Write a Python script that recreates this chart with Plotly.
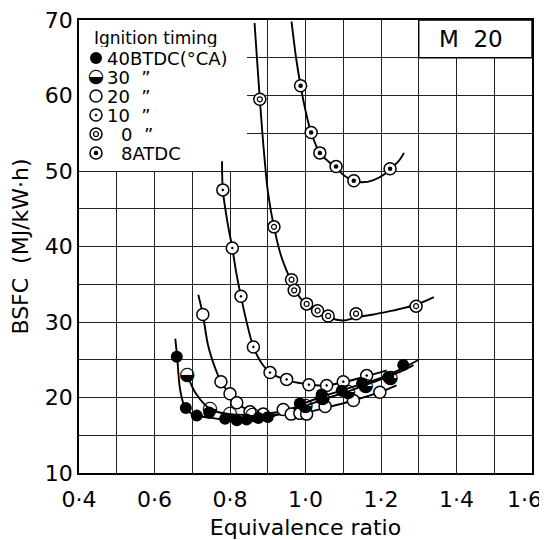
import plotly.graph_objects as go

# ---- data ----
# x: equivalence ratio, y: BSFC (MJ/kW.h)

# 40 BTDC (filled circle)
bt40_x = [0.659, 0.683, 0.712, 0.745, 0.787, 0.818, 0.844, 0.875, 0.900, 0.985, 1.043, 1.096, 1.150, 1.219, 1.259]
bt40_y = [25.4, 18.6, 17.6, 18.0, 17.2, 17.0, 17.1, 17.3, 17.4, 19.2, 20.4, 20.9, 21.9, 22.7, 24.3]
bt40_cx = [0.655, 0.660, 0.668, 0.680, 0.700, 0.750, 0.800, 0.850, 0.900, 0.950, 1.000, 1.050, 1.100, 1.150, 1.200, 1.250, 1.300]
bt40_cy = [27.8, 25.4, 21.0, 18.8, 17.8, 17.3, 17.0, 17.0, 17.3, 18.2, 19.3, 20.2, 21.0, 21.8, 22.6, 23.7, 25.0]

# 30 BTDC (half filled)
bt30_x = [0.687, 0.747, 0.800, 0.860, 1.000, 1.045, 1.113, 1.160, 1.225]
bt30_y = [23.0, 18.4, 17.8, 17.6, 18.9, 19.9, 20.7, 21.5, 22.6]
bt30_cx = [0.687, 0.710, 0.750, 0.800, 0.850, 0.900, 0.950, 1.000, 1.050, 1.100, 1.150, 1.200, 1.250, 1.286]
bt30_cy = [23.0, 20.5, 18.4, 17.8, 17.7, 17.9, 18.3, 18.9, 19.8, 20.6, 21.5, 22.4, 23.4, 24.3]

# 20 BTDC (open circle)
bt20_x = [0.728, 0.776, 0.800, 0.818, 0.853, 0.888, 0.941, 0.962, 0.985, 1.003, 1.052, 1.127, 1.197]
bt20_y = [31.0, 22.1, 20.5, 19.3, 18.1, 17.8, 18.4, 17.8, 17.9, 17.8, 18.8, 19.6, 20.7]
bt20_cx = [0.716, 0.728, 0.742, 0.760, 0.776, 0.800, 0.818, 0.853, 0.888, 0.950, 1.000, 1.050, 1.127, 1.197, 1.241]
bt20_cy = [33.6, 31.0, 26.9, 24.0, 22.1, 20.4, 19.3, 18.2, 17.8, 17.8, 18.0, 18.6, 19.6, 20.7, 21.6]

# 10 BTDC (circle with small dot)
bt10_x = [0.781, 0.806, 0.829, 0.862, 0.906, 0.950, 1.009, 1.056, 1.100, 1.162]
bt10_y = [47.5, 39.8, 33.4, 26.7, 23.3, 22.4, 21.7, 21.6, 22.1, 22.9]
bt10_cx = [0.779, 0.781, 0.793, 0.806, 0.817, 0.829, 0.845, 0.862, 0.883, 0.906, 0.950, 1.000, 1.050, 1.100, 1.160, 1.215]
bt10_cy = [51.3, 47.5, 43.3, 39.8, 36.4, 33.4, 29.8, 26.7, 24.6, 23.3, 22.3, 21.8, 21.6, 22.0, 22.8, 23.6]

# 0 (double circle)
tdc_x = [0.879, 0.9165, 0.963, 0.970, 1.003, 1.032, 1.060, 1.134, 1.293]
tdc_y = [59.5, 42.6, 35.6, 34.2, 32.4, 31.5, 30.8, 31.1, 32.1]
tdc_cx = [0.865, 0.872, 0.879, 0.890, 0.901, 0.9165, 0.935, 0.950, 0.963, 0.980, 1.003, 1.032, 1.060, 1.100, 1.134, 1.180, 1.230, 1.293, 1.340]
tdc_cy = [69.6, 64.5, 59.5, 52.5, 47.0, 42.6, 38.8, 36.8, 35.3, 33.6, 32.2, 31.2, 30.6, 30.2, 30.6, 31.0, 31.5, 32.3, 33.3]

# 8 ATDC (circle with filled dot)
at8_x = [0.987, 1.015, 1.038, 1.081, 1.128, 1.224]
at8_y = [61.3, 55.1, 52.4, 50.6, 48.7, 50.3]
at8_cx = [0.963, 0.975, 0.987, 1.000, 1.015, 1.038, 1.060, 1.081, 1.105, 1.128, 1.150, 1.180, 1.210, 1.224, 1.245, 1.261]
at8_cy = [69.8, 65.0, 61.3, 58.0, 55.1, 52.4, 51.3, 50.4, 49.3, 48.7, 48.5, 48.8, 49.6, 50.3, 51.2, 52.4]

x_grid = [0.4, 0.5, 0.6, 0.7, 0.8, 0.9, 1.0, 1.1, 1.2, 1.3, 1.4, 1.5, 1.6]
# last label is drawn as an annotation so it is not clipped at the right edge
x_labels = ["0·4", "", "0·6", "", "0·8", "", "1·0", "", "1·2", "", "1·4", "", ""]
x_last_label = "1·6"
y_grid = [10, 15, 20, 25, 30, 35, 40, 45, 50, 55, 60, 65, 70]
y_labels = ["10", "", "20", "", "30", "", "40", "", "50", "", "60", "", "70"]

legend_labels = ["40BTDC(°CA)", "30  ”", "20  ”", "10  ”", "0  ”", "8ATDC"]

FONT = "DejaVu Sans"
# page body has an 8px margin, so the figure is 8px smaller than the window
W, H = 539, 532
L, R, T, B = 71, 15, 12, 67
PW, PH = W - L - R, H - T - B

fig = go.Figure()

# curves
for cx, cy in [(bt40_cx, bt40_cy), (bt30_cx, bt30_cy), (bt20_cx, bt20_cy),
               (bt10_cx, bt10_cy), (tdc_cx, tdc_cy), (at8_cx, at8_cy)]:
    fig.add_trace(go.Scatter(x=cx, y=cy, mode="lines", line=dict(color="black", width=1.9, shape="spline", smoothing=1.0),
                             hoverinfo="skip", showlegend=False))

ring = dict(color="white", size=12, line=dict(color="black", width=1.5))


def add_markers(x, y, kind, xaxis="x", yaxis="y"):
    common = dict(x=x, y=y, xaxis=xaxis, yaxis=yaxis, showlegend=False)
    if kind == "filled":
        fig.add_trace(go.Scatter(mode="markers", marker=dict(symbol="circle", color="black", size=12), **common))
    elif kind == "half":
        fig.add_trace(go.Scatter(mode="text", text=["◒"] * len(x), textposition="middle center",
                                 textfont=dict(family=FONT, size=19, color="black"), **common))
    elif kind == "open":
        fig.add_trace(go.Scatter(mode="markers", marker=dict(symbol="circle", **ring), **common))
    elif kind == "dot":
        fig.add_trace(go.Scatter(mode="markers", marker=dict(symbol="circle-dot", **ring), **common))
    elif kind == "double":
        fig.add_trace(go.Scatter(mode="markers", marker=dict(symbol="circle", **ring), **common))
        fig.add_trace(go.Scatter(mode="markers",
                                 marker=dict(symbol="circle", color="white", size=5, line=dict(color="black", width=1.2)),
                                 **common))
    elif kind == "bigdot":
        fig.add_trace(go.Scatter(mode="markers", marker=dict(symbol="circle", **ring), **common))
        fig.add_trace(go.Scatter(mode="markers", marker=dict(symbol="circle", color="black", size=4.5), **common))


kinds = ["filled", "half", "open", "dot", "double", "bigdot"]
series = [(tdc_x, tdc_y), (at8_x, at8_y), (bt10_x, bt10_y), (bt20_x, bt20_y), (bt30_x, bt30_y), (bt40_x, bt40_y)]
order = ["double", "bigdot", "dot", "open", "half", "filled"]
for (sx, sy), k in zip(series, order):
    add_markers(sx, sy, k)


# legend keys on an overlay axis (0..1 = plot area); positions in window pixels
def fx(px):
    return (px - 79) / PW


def fy(py):
    return (473 - py) / PH


rows = [58, 77, 96, 115, 134, 153]
for k, py in zip(kinds, rows):
    add_markers([fx(96)], [fy(py)], k, xaxis="x2", yaxis="y2")

annotations = [dict(x=fx(93), y=fy(38), xref="paper", yref="paper", text="Ignition timing", showarrow=False,
                    xanchor="left", yanchor="middle", height=18, borderpad=0,
                    font=dict(family=FONT, size=17, color="black"))]
label_x = [106, 106, 106, 106, 120, 120]
for lab, lx, py in zip(legend_labels, label_x, rows):
    annotations.append(dict(x=fx(lx), y=fy(py), xref="paper", yref="paper", text=lab, showarrow=False,
                            xanchor="left", yanchor="middle", height=18, borderpad=0,
                            font=dict(family=FONT, size=18, color="black")))
annotations.append(dict(x=1.438, y=67.45, xref="x", yref="y", text="M  20", showarrow=False,
                        font=dict(family=FONT, size=23, color="black")))
annotations.append(dict(x=1.6, y=0, xref="x", yref="paper", text=x_last_label, showarrow=False,
                        xanchor="right", yanchor="top", xshift=11, yshift=-13, borderpad=0,
                        font=dict(family=FONT, size=22, color="black")))

shapes = [
    dict(type="rect", xref="x", yref="y", x0=0.4, x1=0.845, y0=50, y1=70, fillcolor="white",
         line=dict(width=0), layer="between"),
    dict(type="rect", xref="x", yref="y", x0=1.3, x1=1.6, y0=65, y1=70, fillcolor="white",
         line=dict(color="black", width=1.4), layer="between"),
]

axis_common = dict(showline=True, mirror=True, linecolor="black", linewidth=1.6, zeroline=False,
                   showgrid=True, gridcolor="#222222", gridwidth=1.1, ticks="", automargin=False,
                   tickfont=dict(family=FONT, size=22, color="black"))

fig.update_layout(
    width=W, height=H,
    margin=dict(l=L, r=R, t=T, b=B),
    paper_bgcolor="white", plot_bgcolor="white",
    showlegend=False,
    xaxis=dict(range=[0.4, 1.6], tickmode="array", tickvals=x_grid, ticktext=x_labels,
               ticklabelstandoff=6,
               title=dict(text="Equivalence ratio", font=dict(family=FONT, size=22, color="black"), standoff=15),
               **axis_common),
    yaxis=dict(range=[10, 70], tickmode="array", tickvals=y_grid, ticktext=y_labels,
               ticklabeloverflow="allow",
               title=dict(text="BSFC  (MJ/kW·h)", font=dict(family=FONT, size=22, color="black"), standoff=10),
               **axis_common),
    xaxis2=dict(range=[0, 1], overlaying="x", visible=False),
    yaxis2=dict(range=[0, 1], overlaying="y", visible=False),
    shapes=shapes,
    annotations=annotations,
)

fig.write_html("out.html")
